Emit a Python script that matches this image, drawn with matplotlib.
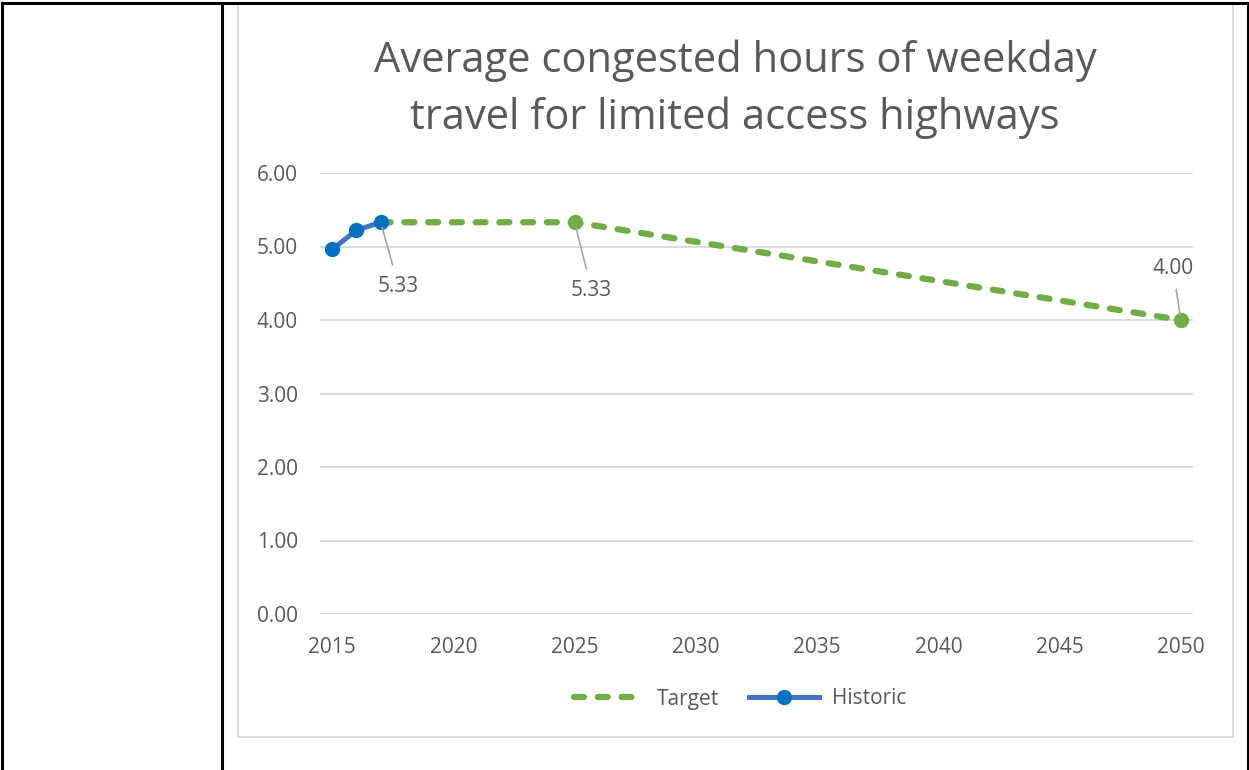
import matplotlib
matplotlib.use("Agg")
import matplotlib.pyplot as plt
from matplotlib.lines import Line2D
from matplotlib.patches import Rectangle

plt.rcParams['font.family'] = ['Open Sans', 'DejaVu Sans']

# data
hist_years = [2015, 2016, 2017]
hist_vals = [4.96, 5.22, 5.33]
target_years = [2017, 2025, 2050]
target_vals = [5.33, 5.33, 4.00]
x_ticks = [2015, 2020, 2025, 2030, 2035, 2040, 2045, 2050]
y_ticks = [0, 1, 2, 3, 4, 5, 6]

GREEN = '#70AD47'
BLUE_LINE = '#4472C4'
BLUE_MARK = '#0070C0'
TXT = '#595959'
GRID = '#D9D9D9'

W, H = 1249, 770
fig = plt.figure(figsize=(W / 100, H / 100), dpi=100)

def fx(px):
    return px / W

def fy(py):
    return 1 - py / H

# table borders around the chart cell
for xs, ys in [((2, 2), (3, 770)), ((222, 222), (3, 770)), ((1248, 1248), (3, 770)), ((2, 1248), (3, 3))]:
    fig.add_artist(Line2D([fx(x) for x in xs], [fy(y) for y in ys], color='black', lw=2.2))

# chart frame
fig.add_artist(Rectangle((fx(238), fy(737)), fx(1233) - fx(238), fy(4) - fy(737),
                         fill=False, edgecolor=GRID, lw=1.3))

ax = fig.add_axes([fx(320), fy(614), fx(1193) - fx(320), fy(173) - fy(614)])
ax.set_xlim(2014.5, 2050.5)
ax.set_ylim(0, 6)
ax.set_xticks(x_ticks)
ax.set_yticks(y_ticks)
ax.set_yticklabels([f'{v:.2f}' for v in y_ticks])
ax.tick_params(length=0, labelsize=15, colors=TXT)
ax.tick_params(axis='y', pad=16)
ax.tick_params(axis='x', pad=16.5)
for s in ax.spines.values():
    s.set_visible(False)
ax.grid(axis='y', color=GRID, lw=1.3)
ax.set_axisbelow(True)

# target line and its markers
ax.plot(target_years, target_vals, color=GREEN, lw=4.5, linestyle=(0, (1.6, 2.2)),
        dash_capstyle='round', zorder=3)
ax.plot(target_years[1:], target_vals[1:], 'o', color=GREEN, ms=10, zorder=4)

# historic line
ax.plot(hist_years, hist_vals, color=BLUE_LINE, lw=3.6, marker='o', ms=10,
        mfc=BLUE_MARK, mec=BLUE_MARK, zorder=5)

# data labels with leader lines
label_offsets = [(18, -64), (17, -68), (-8, 52)]
for x, y, off in zip(target_years, target_vals, label_offsets):
    ax.annotate(f'{y:.2f}', (x, y), xytext=off, textcoords='offset pixels',
                ha='center', va='center', fontsize=15, color=TXT,
                arrowprops=dict(arrowstyle='-', color='#A6A6A6', lw=1.2,
                                shrinkA=6, shrinkB=4), zorder=6)

fig.text(fx(735), fy(89), 'Average congested hours of weekday\ntravel for limited access highways',
         ha='center', va='center', fontsize=30, color=TXT, linespacing=1.45)

handles = [Line2D([], [], color=GREEN, lw=4.5, linestyle=(0, (1.6, 2.2)), dash_capstyle='round'),
           Line2D([], [], color=BLUE_LINE, lw=3.6, marker='o', ms=10, mfc=BLUE_MARK, mec=BLUE_MARK)]
fig.legend(handles, ['Target', 'Historic'], loc='center', bbox_to_anchor=(fx(740), fy(699)),
           ncol=2, frameon=False, fontsize=15, labelcolor=TXT, handlelength=3.4,
           handletextpad=0.6, columnspacing=1.4)

fig.savefig('out.png', dpi=100)
